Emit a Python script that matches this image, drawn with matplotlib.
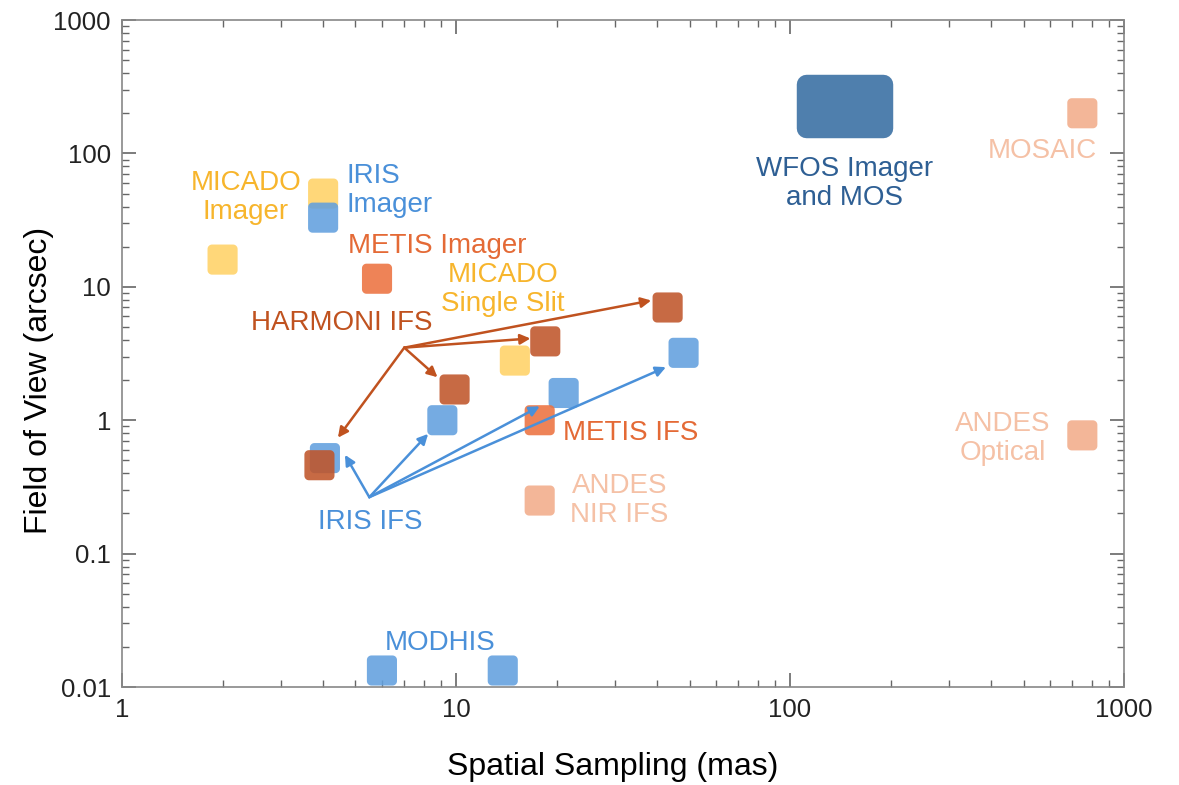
import matplotlib as mpl
mpl.use('Agg')
import matplotlib.pyplot as plt
import numpy as np
from matplotlib.path import Path
from matplotlib.patches import Rectangle
from matplotlib.ticker import LogLocator, NullFormatter

plt.rcParams['font.family'] = ['Liberation Sans', 'DejaVu Sans']

# instrument data: spatial sampling (mas) vs field of view (arcsec)
micado_x = [2, 4, 15]
micado_y = [16, 50, 2.8]
iris_x = [4, 4.05, 9.1, 21, 48]
iris_y = [33, 0.52, 1.0, 1.6, 3.2]
modhis_x = [6, 13.8]
modhis_y = [0.0133, 0.0133]
metis_x = [5.8, 17.8]
metis_y = [11.5, 1.0]
harmoni_x = [3.9, 9.9, 18.5, 43]
harmoni_y = [0.46, 1.7, 3.9, 7.0]
andes_x = [17.8, 750, 750]
andes_y = [0.25, 0.77, 200]
wfos_x = [112, 190]
wfos_y = [155, 330]

# arrow origins and targets
harmoni_from = (7.0, 3.5)
harmoni_to_x = [4.43, 8.8, 16.7, 38.4]
harmoni_to_y = [0.74, 2.1, 4.1, 7.9]
iris_from = (5.5, 0.265)
iris_to_x = [4.65, 8.25, 17.8, 42.5]
iris_to_y = [0.55, 0.79, 1.27, 2.5]

c_micado, t_micado = '#FFD266', '#F7B52C'
c_iris, t_iris = '#62A0DE', '#4A90D9'
c_metis, t_metis = '#EC7240', '#E46A36'
c_harm, t_harm = '#C0552A', '#C0521F'
c_andes, t_andes = '#F2AC8A', '#F5C1A6'
c_wfos, t_wfos = '#4F7FAD', '#2E5F94'


def rounded_square(r=0.3, n=10):
    verts = []
    for cx, cy, a0 in [(1 - r, 1 - r, 0), (r - 1, 1 - r, 90),
                       (r - 1, r - 1, 180), (1 - r, r - 1, 270)]:
        t = np.radians(np.linspace(a0, a0 + 90, n))
        verts += list(zip(cx + r * np.cos(t), cy + r * np.sin(t)))
    verts.append(verts[0])
    codes = [Path.MOVETO] + [Path.LINETO] * (len(verts) - 2) + [Path.CLOSEPOLY]
    return Path(verts, codes)


sq = rounded_square()
fig = plt.figure(figsize=(11.79, 7.85), dpi=100)
ax = fig.add_axes([0.1035, 0.1248, 0.8499, 0.8497])
ax.set_xscale('log')
ax.set_yscale('log')
ax.set_xlim(1, 1000)
ax.set_ylim(0.01, 1000)

S = 470
kw = dict(marker=sq, s=S, edgecolors='none', alpha=0.88, clip_on=False)
ax.scatter(micado_x, micado_y, color=c_micado, zorder=3, **kw)
ax.scatter(iris_x, iris_y, color=c_iris, zorder=4, **kw)
ax.scatter(modhis_x, modhis_y, color=c_iris, zorder=4, **kw)
ax.scatter(metis_x, metis_y, color=c_metis, zorder=5, **kw)
ax.scatter(harmoni_x, harmoni_y, color=c_harm, zorder=6, **kw)
ax.scatter(andes_x, andes_y, color=c_andes, zorder=4, **kw)

ax.add_patch(Rectangle((wfos_x[0], wfos_y[0]), wfos_x[1] - wfos_x[0],
                       wfos_y[1] - wfos_y[0], facecolor=c_wfos,
                       edgecolor=c_wfos, lw=14, joinstyle='round', zorder=3))

for tx, ty in zip(harmoni_to_x, harmoni_to_y):
    ax.annotate('', xy=(tx, ty), xytext=harmoni_from, zorder=7,
                arrowprops=dict(arrowstyle='-|>', color=t_harm, lw=1.8,
                                mutation_scale=15, shrinkA=0, shrinkB=0))
for tx, ty in zip(iris_to_x, iris_to_y):
    ax.annotate('', xy=(tx, ty), xytext=iris_from, zorder=7,
                arrowprops=dict(arrowstyle='-|>', color=t_iris, lw=1.8,
                                mutation_scale=15, shrinkA=0, shrinkB=0))

fs = 20
tk = dict(fontsize=fs, va='center', ha='center', linespacing=1.15, zorder=8)
ax.text(2.35, 47, 'MICADO\nImager', color=t_micado, **tk)
ax.text(4.69, 53, 'IRIS\nImager', color=t_iris, **{**tk, 'ha': 'left'})
ax.text(8.77, 20.2, 'METIS Imager', color=t_metis, **tk)
ax.text(13.8, 9.6, 'MICADO\nSingle Slit', color=t_micado, **tk)
ax.text(4.56, 5.34, 'HARMONI IFS', color=t_harm, **tk)
ax.text(33.4, 0.80, 'METIS IFS', color=t_metis, **tk)
ax.text(30.8, 0.251, 'ANDES\nNIR IFS', color=t_andes, **tk)
ax.text(5.53, 0.172, 'IRIS IFS', color=t_iris, **tk)
ax.text(8.96, 0.0213, 'MODHIS', color=t_iris, **tk)
ax.text(146, 59.8, 'WFOS Imager\nand MOS', color=t_wfos, **tk)
ax.text(568, 104, 'MOSAIC', color=t_andes, **tk)
ax.text(434, 0.733, 'ANDES\nOptical', color=t_andes, **tk)

ax.set_xticks([1, 10, 100, 1000])
ax.set_xticklabels(['1', '10', '100', '1000'])
ax.set_yticks([0.01, 0.1, 1, 10, 100, 1000])
ax.set_yticklabels(['0.01', '0.1', '1', '10', '100', '1000'])
ax.xaxis.set_minor_locator(LogLocator(base=10, subs=np.arange(2, 10)))
ax.yaxis.set_minor_locator(LogLocator(base=10, subs=np.arange(2, 10)))
ax.xaxis.set_minor_formatter(NullFormatter())
ax.yaxis.set_minor_formatter(NullFormatter())
ax.tick_params(which='both', direction='in', top=True, right=True,
               color='#666666')
ax.tick_params(which='major', length=10, width=1.2, labelsize=18.5,
               labelcolor='#222222', pad=8)
ax.tick_params(which='minor', length=5, width=1)
for sp in ax.spines.values():
    sp.set_color('#888888')
    sp.set_linewidth(1.2)

ax.set_xlabel('Spatial Sampling (mas)', fontsize=23)
ax.set_ylabel('Field of View (arcsec)', fontsize=23)
ax.xaxis.set_label_coords(0.4895, -0.097)
ax.yaxis.set_label_coords(-0.068, 0.46)

fig.savefig('out.png', dpi=100)
